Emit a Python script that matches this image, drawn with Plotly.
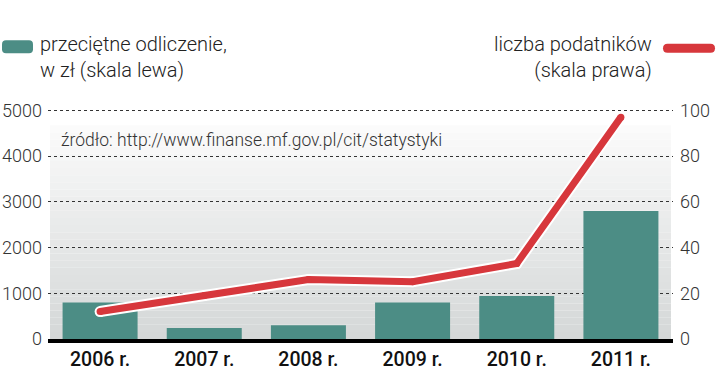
import plotly.graph_objects as go

years = ["2006 r.", "2007 r.", "2008 r.", "2009 r.", "2010 r.", "2011 r."]
avg_deduction = [800, 240, 300, 800, 940, 2800]
taxpayers = [12, 19, 26, 25, 33, 97]
left_ticks = [0, 1000, 2000, 3000, 4000, 5000]
right_ticks = [0, 20, 40, 60, 80, 100]

FONT = "Roboto"
fig = go.Figure()

fig.add_trace(go.Bar(x=years, y=avg_deduction, marker=dict(color="#4c8d85", line=dict(width=0)),
                     hoverinfo="skip"))
fig.add_trace(go.Scatter(x=years, y=taxpayers, yaxis="y2", mode="lines+markers",
                         line=dict(color="white", width=11),
                         marker=dict(color="white", size=11), hoverinfo="skip"))
fig.add_trace(go.Scatter(x=years, y=taxpayers, yaxis="y2", mode="lines+markers",
                         line=dict(color="#d7373c", width=7),
                         marker=dict(color="#d7373c", size=7), hoverinfo="skip"))

# plot area in window pixels; 5000 maps to y=110, 0 to y=339
YMAX = 5050
PL, PR, PB = 48, 673, 339
PT = PB - (PB - 110) * YMAX / 5000
PW, PH = PR - PL, PB - PT

def px_x(px):
    return (px - PL) / PW

def px_y(py):
    return (PB - py) / PH

shapes = []
n = 30
top = px_y(125)
c0 = (251, 251, 251)
c1 = (213, 216, 216)
for i in range(n):
    t = i / (n - 1)
    col = tuple(int(c0[k] + (c1[k] - c0[k]) * t) for k in range(3))
    y1 = top - top * i / n
    y0 = top - top * (i + 1) / n
    shapes.append(dict(type="rect", xref="paper", yref="paper", x0=px_x(50), x1=px_x(671),
                       y0=y0, y1=y1, fillcolor="rgb(%d,%d,%d)" % col,
                       line=dict(width=0), layer="below"))

def pill(cx, cy, w, h, r, color):
    x0, x1 = -w / 2, w / 2
    y0, y1 = -h / 2, h / 2
    p = (f"M{x0+r},{y0} L{x1-r},{y0} Q{x1},{y0} {x1},{y0+r} L{x1},{y1-r} Q{x1},{y1} {x1-r},{y1} "
         f"L{x0+r},{y1} Q{x0},{y1} {x0},{y1-r} L{x0},{y0+r} Q{x0},{y0} {x0+r},{y0} Z")
    return dict(type="path", xref="paper", yref="paper", xsizemode="pixel", ysizemode="pixel",
                xanchor=cx, yanchor=cy, path=p, fillcolor=color, line=dict(width=0))

shapes.append(pill(px_x(17.5), px_y(46.5), 31, 13, 4, "#4c8d85"))
shapes.append(pill(px_x(689), px_y(48), 52, 9, 4.5, "#d7373c"))

annotations = [
    dict(text="przeciętne odliczenie,<br>w zł (skala lewa)", xref="paper", yref="paper",
         x=px_x(38), y=px_y(30), xanchor="left", yanchor="top", align="left", showarrow=False,
         font=dict(family=FONT, size=20, color="#222", weight=300)),
    dict(text="liczba podatników<br>(skala prawa)", xref="paper", yref="paper",
         x=px_x(654), y=px_y(30), xanchor="right", yanchor="top", align="right", showarrow=False,
         font=dict(family=FONT, size=20, color="#222", weight=300)),
    dict(text="źródło: http://www.finanse.mf.gov.pl/cit/statystyki", xref="paper", yref="paper",
         x=px_x(59), y=px_y(140), xanchor="left", yanchor="middle", showarrow=False,
         font=dict(family=FONT, size=17.5, color="#333", weight=300)),
]

fig.update_layout(
    width=720, height=392,
    margin=dict(l=PL, r=720 - PR, t=PT, b=392 - PB, pad=0),
    paper_bgcolor="white", plot_bgcolor="rgba(0,0,0,0)",
    showlegend=False, bargap=0.28,
    shapes=shapes, annotations=annotations,
    xaxis=dict(showgrid=False, showline=True, linecolor="black", linewidth=4,
               ticks="", tickfont=dict(family=FONT, size=19.5, color="#111", weight=500),
               fixedrange=True, automargin=False),
    yaxis=dict(range=[0, YMAX], tickvals=left_ticks, showgrid=True, gridcolor="#333",
               griddash="3px,3px", gridwidth=1, zeroline=False, automargin=False,
               tickfont=dict(family=FONT, size=18, color="#333", weight=300), ticklabelstandoff=5),
    yaxis2=dict(range=[0, YMAX / 50], tickvals=right_ticks, overlaying="y", side="right",
                showgrid=False, zeroline=False, automargin=False,
                tickfont=dict(family=FONT, size=18, color="#333", weight=300), ticklabelstandoff=6),
)

fig.write_html("out.html", config={"displayModeBar": False},
               post_script="document.body.style.margin='0';document.body.style.padding='0';")
